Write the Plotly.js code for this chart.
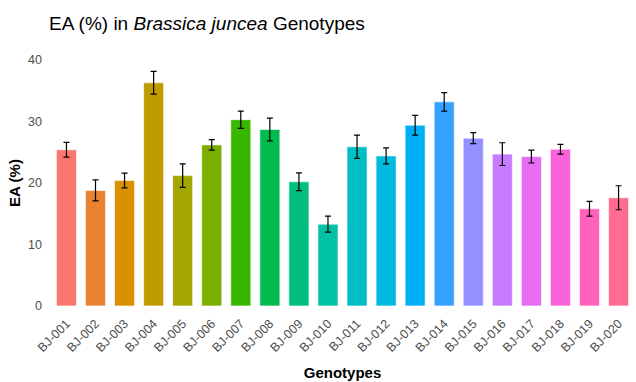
<!DOCTYPE html>
<html><head><meta charset="utf-8">
<script src="https://cdn.plot.ly/plotly-3.0.1.min.js"></script>
<style>html,body{margin:0;padding:0;background:#fff}</style>
</head><body><div id="chart" style="width:636px;height:382px"></div>
<script>
const genotypes = ["BJ-001","BJ-002","BJ-003","BJ-004","BJ-005","BJ-006","BJ-007","BJ-008","BJ-009","BJ-010","BJ-011","BJ-012","BJ-013","BJ-014","BJ-015","BJ-016","BJ-017","BJ-018","BJ-019","BJ-020"];
const eaMean = [25.4,18.8,20.4,36.3,21.2,26.2,30.3,28.7,20.2,13.3,25.9,24.4,29.4,33.2,27.3,24.7,24.3,25.5,15.8,17.6];
const eaErr = [1.2,1.7,1.2,1.85,1.9,0.85,1.4,1.85,1.45,1.3,1.9,1.3,1.6,1.5,0.9,1.85,1.05,0.8,1.2,1.95];
const barColors = ["#F8766D","#EA8331","#D89000","#C09B00","#A3A500","#7CAE00","#39B600","#00BB4E","#00BF7D","#00C1A3","#00BFC4","#00BAE0","#00B0F6","#35A2FF","#9590FF","#C77CFF","#E76BF3","#FA62DB","#FF62BC","#FF6C91"];

const trace = {
  type: "bar",
  x: genotypes,
  y: eaMean,
  marker: {color: barColors, line: {color: "rgba(255,255,255,0.6)", width: 1}},
  error_y: {type: "data", array: eaErr, visible: true, color: "#000", thickness: 1.2, width: 3},
  showlegend: false
};
const layout = {
  width: 636, height: 382,
  margin: {l: 49, r: 0, t: 57, b: 73},
  paper_bgcolor: "#fff", plot_bgcolor: "#fff",
  font: {family: "Liberation Sans, Arial, sans-serif", color: "#000"},
  title: {text: "EA (%) in <i>Brassica juncea</i> Genotypes", x: 0.0, xref: "paper", xanchor: "left", y: 0.94, yanchor: "middle", font: {size: 19, color: "#000"}},
  bargap: 0.31,
  xaxis: {
    type: "category", range: [-0.6, 19.6], showgrid: false, zeroline: false, showline: false, ticks: "",
    tickangle: -45, tickfont: {size: 12.5, color: "#4D4D4D"}, ticklabelstandoff: 4,
    title: {text: "<b>Genotypes</b>", font: {size: 15, color: "#000"}, standoff: 13}
  },
  yaxis: {
    range: [-0.5, 40.5], tickvals: [0,10,20,30,40], showgrid: false, zeroline: false, showline: false, ticks: "",
    tickfont: {size: 12.5, color: "#4D4D4D"}, ticklabelstandoff: 6,
    title: {text: "<b>EA (%)</b>", font: {size: 15, color: "#000"}, standoff: 3}
  }
};
Plotly.newPlot("chart", [trace], layout, {displayModeBar: false, staticPlot: true});
</script></body></html>
